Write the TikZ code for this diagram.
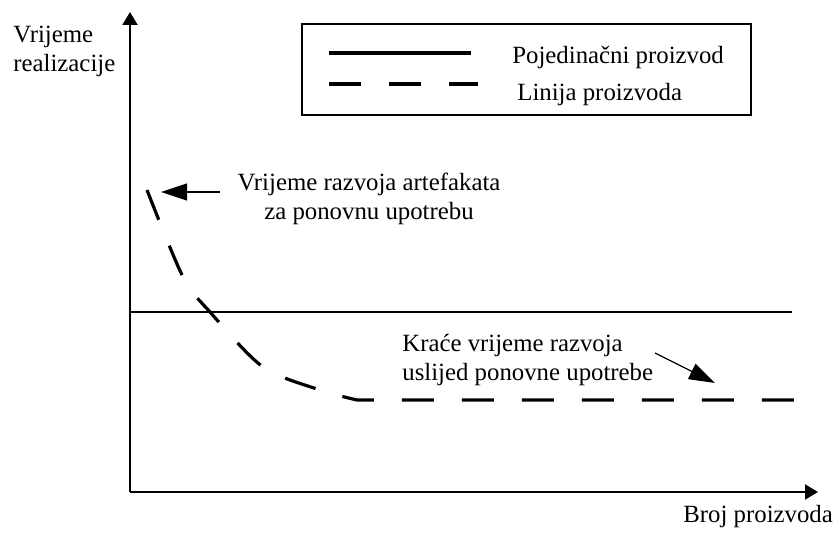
\documentclass[tikz,border=0pt]{standalone}
\usepackage{fontspec}
\setmainfont{Liberation Serif}
\usetikzlibrary{arrows.meta}

\begin{document}
\begin{tikzpicture}[x=0.5pt,y=-0.5pt,
  tekst/.style={font=\fontsize{12.4}{14.5}\selectfont,inner sep=0pt},
  osa/.style={line width=1.1pt,-{Triangle[length=6.5pt,width=7.5pt]}},
  pokaz/.style={line width=0.6pt,-{Triangle[length=13pt,width=8.5pt]}},
  crtkano/.style={line width=1.6pt,dash pattern=on 16pt off 14pt}]
\useasboundingbox (0,0) rectangle (837,545);
\coordinate (ishod) at (130,492);
\coordinate (yvrh) at (130,12);
\coordinate (xvrh) at (818,492);
\draw[osa] (ishod) -- (yvrh);
\draw[osa] (ishod) -- (xvrh);
\node[tekst,anchor=base west,align=left] (ylab) at (13,72) {Vrijeme\\[0pt]realizacije};
\node[tekst,anchor=base west] (xlab) at (683,523) {Broj proizvoda};
\draw[line width=0.6pt] (302,24) rectangle (751,115);
\draw[line width=1.6pt] (329,53) -- (471,53);
\draw[crtkano] (329,84) -- (478,84);
\node[tekst,anchor=base west] (leg1) at (512,64) {Pojedinačni proizvod};
\node[tekst,anchor=base west] (leg2) at (517,101) {Linija proizvoda};
\draw[line width=1.1pt] (130,312) -- (792,312);
\coordinate (pocetak) at (147,190);
\draw[crtkano] plot[smooth,tension=0.5] coordinates {(pocetak) (183,277) (210,312) (263,367) (320,390) (357,400)} -- (805,400);
\node[tekst,align=center,anchor=north] (opis1) at (369,173) {Vrijeme razvoja artefakata\\za ponovnu upotrebu};
\coordinate (vrh1) at (161,192);
\draw[pokaz] (220,192) -- (vrh1);
\node[tekst,align=left,anchor=north west] (opis2) at (402,334) {Kraće vrijeme razvoja\\uslijed ponovne upotrebe};
\coordinate (vrh2) at (715,383);
\draw[pokaz] (655,353) -- (vrh2);
\end{tikzpicture}
\end{document}
